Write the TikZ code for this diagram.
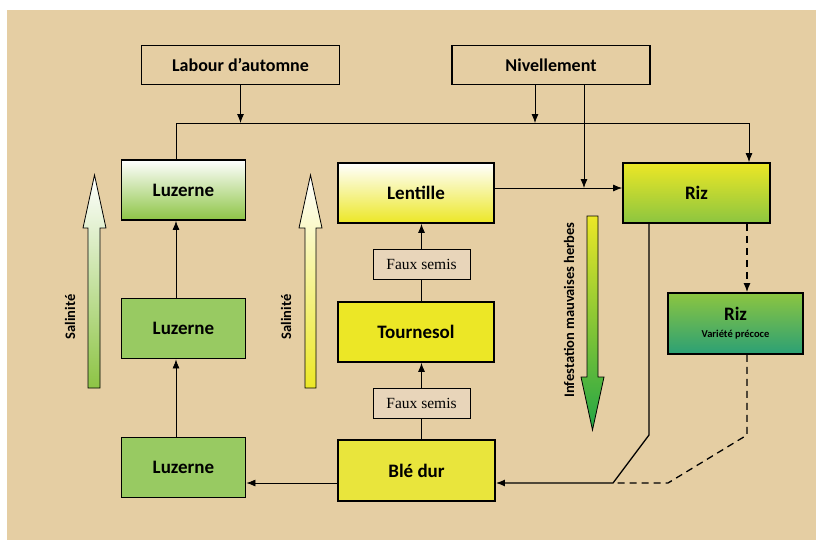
\documentclass[tikz,border=0pt]{standalone}
\usepackage{fontspec}
\setmainfont{Carlito}
\newfontfamily\tnr{Liberation Serif}
\usetikzlibrary{arrows.meta}

\definecolor{paper}{HTML}{E5CEA3}
\definecolor{luzgreen}{HTML}{98CA62}
\definecolor{luzlight}{HTML}{8DC445}
\definecolor{jaune}{HTML}{ECE726}
\definecolor{bleyel}{HTML}{E9E53C}
\definecolor{rizgreen}{HTML}{8CC540}
\definecolor{teal}{HTML}{2BA075}
\definecolor{infgreen}{HTML}{22A545}
\definecolor{fsfill}{HTML}{E8D5BA}

\begin{document}
\begin{tikzpicture}[x=1pt,y=-1pt,
bx/.style = {draw,line width=1.2pt,inner sep=0pt,minimum width=198pt,minimum height=39pt,
  font=\fontsize{18}{21}\selectfont\bfseries},
crop/.style = {draw,line width=1.8pt,inner sep=0pt,minimum height=60pt,
  font=\fontsize{19}{21}\selectfont\bfseries},
fs/.style = {draw,line width=0.8pt,fill=fsfill,inner sep=0pt,minimum width=97pt,minimum height=30pt,
  font=\tnr\fontsize{15.5}{17}\selectfont},
arr/.style = {-{Latex[length=9pt,width=7pt]},line width=0.8pt},
side/.style = {rotate=90,font=\fontsize{14.5}{16}\selectfont\bfseries}
]
  \useasboundingbox (0,0) rectangle (816,542);
  \fill[white] (0,0) rectangle (816,542);
  \fill[paper] (7,10) rectangle (816,540);

  % travaux du sol
  \node[bx] (lab) at (240.5,65) {Labour d'automne};
  \node[bx] (niv) at (551,65) {Nivellement};

  % cultures
  \node[crop,minimum width=124pt,top color=white,bottom color=luzlight] (luzA) at (183.5,190) {Luzerne};
  \node[crop,minimum width=124pt,fill=luzgreen] (luzB) at (183.5,328.5) {Luzerne};
  \node[crop,minimum width=124pt,fill=luzgreen] (luzC) at (183.5,467.5) {Luzerne};
  \node[crop,minimum width=156pt,top color=white,bottom color=jaune] (lent) at (416,193) {Lentille};
  \node[fs] (fs1) at (421.5,264) {Faux semis};
  \node[crop,minimum width=156pt,fill=jaune] (tour) at (416,332) {Tournesol};
  \node[fs] (fs2) at (421.5,403.5) {Faux semis};
  \node[crop,minimum width=157pt,minimum height=61pt,fill=bleyel] (ble) at (416.5,470.5) {Blé dur};
  \node[crop,minimum width=147pt,top color=jaune,bottom color=rizgreen] (riz) at (696.5,193) {Riz};
  \node[crop,minimum width=135pt,minimum height=61pt,top color=rizgreen,bottom color=teal,align=center]
    (rp) at (735.5,323.5) {Riz\\[-4pt]{\fontsize{10.5}{12}\selectfont Variété précoce}};

  % points de passage
  \coordinate (tl) at (176,123);
  \coordinate (tr) at (749,123);
  \coordinate (jn) at (535,123);
  \coordinate (jr) at (584,188);
  \coordinate (jb) at (613,483);
  \coordinate (rk) at (649,435);
  \coordinate (dk) at (747,435);
  \coordinate (dj) at (668,483);

  \draw[arr] (luzA.north -| tl) -- (tl) -- (tr) -- (riz.north -| tr);
  \draw[arr] (lab.south) -- (lab.south |- tl);
  \draw[arr] (niv.south -| jn) -- (jn);
  \draw[arr] (niv.south -| jr) -- (jr);
  \draw[arr] (lent.east |- jr) -- (riz.west |- jr);

  \draw[arr] (luzC.north -| tl) -- (luzB.south -| tl);
  \draw[arr] (luzB.north -| tl) -- (luzA.south -| tl);

  \draw[arr] (fs1.north) -- (lent.south -| fs1.north);
  \draw[line width=0.8pt] (tour.north -| fs1.south) -- (fs1.south);
  \draw[arr] (fs2.north) -- (tour.south -| fs2.north);
  \draw[line width=0.8pt] (ble.north -| fs2.south) -- (fs2.south);

  \draw[arr] (ble.west |- jb) -- (luzC.east |- jb);
  \draw[arr,line width=1.3pt] (riz.south -| rk) -- (rk) -- (jb) -- (ble.east |- jb);
  \draw[arr,line width=1.3pt,dash pattern=on 7pt off 5pt] (riz.south -| dk) -- (rp.north -| dk);
  \draw[line width=1.3pt,dash pattern=on 7pt off 5pt] (rp.south -| dk) -- (dk) -- (dj) -- (jb);

  % fleches de gradient
  \shadedraw[top color=white,bottom color=luzlight,line width=0.8pt]
    (88,388) -- (88,228) -- (83,228) -- (94.5,175) -- (106,228) -- (100,228) -- (100,388) -- cycle;
  \node[side] (sal1) at (70,317) {Salinité};
  \shadedraw[top color=white,bottom color=jaune,line width=0.8pt]
    (305,388) -- (305,228) -- (299,228) -- (310.5,175) -- (322,228) -- (316,228) -- (316,388) -- cycle;
  \node[side] (sal2) at (286,317) {Salinité};
  \shadedraw[top color=jaune,bottom color=infgreen,line width=0.8pt]
    (587,216) -- (598,216) -- (598,377) -- (604,377) -- (592.5,430) -- (581,377) -- (587,377) -- cycle;
  \node[side] (inf) at (569,310) {Infestation mauvaises herbes};
\end{tikzpicture}
\end{document}
